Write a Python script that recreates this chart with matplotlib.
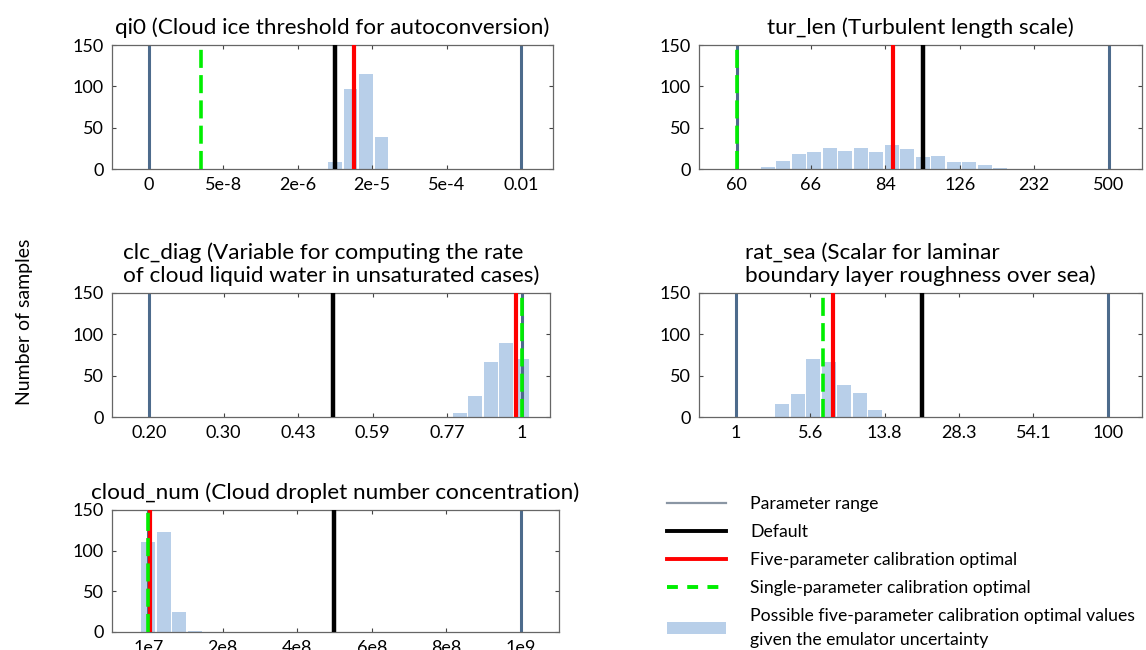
import matplotlib
matplotlib.use("Agg")
import matplotlib.pyplot as plt
from matplotlib.lines import Line2D
from matplotlib.patches import Patch

plt.rcParams['font.family'] = ['Lato', 'DejaVu Sans']

# ---------------- data (x positions on normalized parameter axis, 0..1) -------------
tick_pos = [0.0, 0.2, 0.4, 0.6, 0.8, 1.0]

qi0_title = "qi0 (Cloud ice threshold for autoconversion)"
qi0_ticklabels = ['0', '5e-8', '2e-6', '2e-5', '5e-4', '0.01']
qi0_bin_pos = [0.5, 0.5417, 0.5833, 0.625]
qi0_counts = [9, 97, 115, 39]
qi0_range = [0.0, 1.0]
qi0_default = 0.5
qi0_five = 0.551
qi0_single = 0.141

tur_title = "tur_len (Turbulent length scale)"
tur_ticklabels = ['60', '66', '84', '126', '232', '500']
tur_bin_pos = [0.0833, 0.125, 0.1667, 0.2083, 0.25, 0.2917, 0.3333, 0.375,
               0.4167, 0.4583, 0.5, 0.5417, 0.5833, 0.625, 0.6667, 0.7083]
tur_counts = [2, 10, 18, 21, 26, 22, 25, 21, 29, 24, 15, 16, 9, 9, 5, 1.5]
tur_range = [0.0, 1.0]
tur_default = 0.5
tur_five = 0.4206
tur_single = 0.0

clc_title = "clc_diag (Variable for computing the rate\nof cloud liquid water in unsaturated cases)"
clc_ticklabels = ['0.20', '0.30', '0.43', '0.59', '0.77', '1']
clc_bin_pos = [0.8333, 0.875, 0.9167, 0.9583, 1.0]
clc_counts = [5, 26, 66, 89, 70]
clc_range = [0.0, 1.0]
clc_default = 0.494
clc_five = 0.985
clc_single = 1.0

rat_title = "rat_sea (Scalar for laminar\nboundary layer roughness over sea)"
rat_ticklabels = ['1', '5.6', '13.8', '28.3', '54.1', '100']
rat_bin_pos = [0.125, 0.1667, 0.2083, 0.25, 0.2917, 0.3333, 0.375]
rat_counts = [16, 28, 70, 67, 39, 29, 9]
rat_range = [0.0, 1.0]
rat_default = 0.5
rat_five = 0.261
rat_single = 0.235

cld_title = "cloud_num (Cloud droplet number concentration)"
cld_ticklabels = ['1e7', '2e8', '4e8', '6e8', '8e8', '1e9']
cld_bin_pos = [0.0, 0.0417, 0.0833, 0.125]
cld_counts = [111, 123, 25, 1]
cld_range = [0.0, 1.0]
cld_default = 0.5
cld_five = 0.005
cld_single = 0.0

legend_labels = ["Parameter range", "Default", "Five-parameter calibration optimal",
                 "Single-parameter calibration optimal",
                 "Possible five-parameter calibration optimal values\ngiven the emulator uncertainty"]

# ---------------- styling ----------------
W, H = 1146, 650
RANGE_C = '#4d6b8c'
BAR_C = '#b8cfe9'
FS_TICK = 13
FS_TITLE = 16.2
FS_LEG = 12.7

fig = plt.figure(figsize=(W / 100, H / 100), dpi=100)


def px_axes(x0, y0, x1, y1):
    return fig.add_axes([x0 / W, 1 - y1 / H, (x1 - x0) / W, (y1 - y0) / H])


panels = [
    dict(box=(112, 45, 553, 169), xlim=(-0.0995, 1.086), title=qi0_title, tl=qi0_ticklabels,
         pos=qi0_bin_pos, cnt=qi0_counts, rng=qi0_range, d=qi0_default, f=qi0_five, s=qi0_single),
    dict(box=(699, 45, 1142, 169), xlim=(-0.101, 1.090), title=tur_title, tl=tur_ticklabels,
         pos=tur_bin_pos, cnt=tur_counts, rng=tur_range, d=tur_default, f=tur_five, s=tur_single),
    dict(box=(112, 293, 550, 417), xlim=(-0.100, 1.076), title=clc_title, tl=clc_ticklabels,
         pos=clc_bin_pos, cnt=clc_counts, rng=clc_range, d=clc_default, f=clc_five, s=clc_single),
    dict(box=(699, 293, 1142, 417), xlim=(-0.099, 1.092), title=rat_title, tl=rat_ticklabels,
         pos=rat_bin_pos, cnt=rat_counts, rng=rat_range, d=rat_default, f=rat_five, s=rat_single),
    dict(box=(112, 510, 559, 632), xlim=(-0.0975, 1.103), title=cld_title, tl=cld_ticklabels,
         pos=cld_bin_pos, cnt=cld_counts, rng=cld_range, d=cld_default, f=cld_five, s=cld_single),
]

for p in panels:
    ax = px_axes(*p['box'])
    ax.bar(p['pos'], p['cnt'], width=0.0375, color=BAR_C, edgecolor='none', zorder=1)
    for r in p['rng']:
        ax.axvline(r, color=RANGE_C, lw=2.2, zorder=2)
    ax.axvline(p['d'], color='black', lw=3.2, zorder=3)
    ax.axvline(p['f'], color='#ff0000', lw=3.0, zorder=4)
    ax.axvline(p['s'], color='#00ee00', lw=2.6, dashes=(5.0, 2.0), zorder=5)
    ax.set_xlim(*p['xlim'])
    ax.set_ylim(0, 150)
    ax.set_xticks(tick_pos)
    ax.set_xticklabels(p['tl'])
    ax.set_yticks([0, 50, 100, 150])
    ax.tick_params(direction='in', top=True, right=True, length=3, width=0.8,
                   color='#444444', labelsize=FS_TICK, pad=6)
    for sp in ax.spines.values():
        sp.set_color('#666666')
        sp.set_linewidth(0.9)
    ax.text(0.5, 1.06, p['title'], transform=ax.transAxes, ha='center', va='bottom',
            multialignment='left', fontsize=FS_TITLE, linespacing=1.12)

fig.text(25 / W, 1 - 322 / H, "Number of samples", rotation=90, ha='center', va='center',
         fontsize=14)

handles = [
    Line2D([], [], color='#8a96a4', lw=1.6),
    Line2D([], [], color='black', lw=2.8),
    Line2D([], [], color='#ff0000', lw=2.8),
    Line2D([], [], color='#00ee00', lw=2.8, dashes=(2.8, 2.4)),
    Patch(facecolor=BAR_C, edgecolor='none'),
]
leg = fig.legend(handles, legend_labels, loc='upper left', bbox_to_anchor=(667 / W, 1 - 496 / H),
                 frameon=False, fontsize=FS_LEG, handlelength=3.35, handletextpad=1.36,
                 labelspacing=0.68, borderpad=0, borderaxespad=0)
for t in leg.get_texts():
    t.set_linespacing(1.6)

fig.savefig('out.png', dpi=100)
